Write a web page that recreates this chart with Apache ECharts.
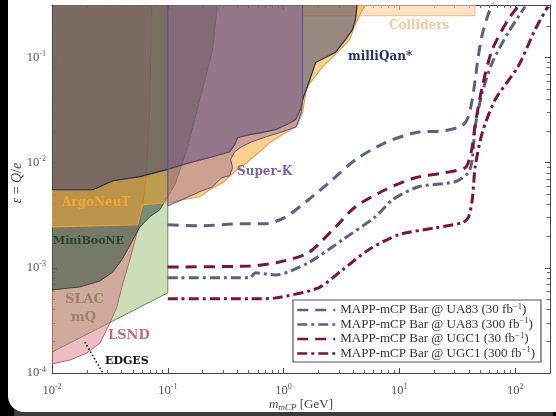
<!DOCTYPE html>
<html>
<head>
<meta charset="utf-8">
<script src="https://cdn.jsdelivr.net/npm/echarts@6/dist/echarts.min.js"></script>
<style>
  html, body { margin: 0; padding: 0; background: #000; }
  #chart { width: 556px; height: 416px; }
</style>
</head>
<body>
<div id="chart"></div>
<script>
// ---- Axis ranges (mass in GeV, fractional charge epsilon) ----
const massRange = [0.01, 200];
const epsRange = [1e-4, 0.316];

// ---- Excluded regions, each an outline of [mass GeV, epsilon] points ----
const regionSLAC = [[0.01, 1.58e-4], [0.1, 5.78e-4], [0.1, 0.34], [0.01, 0.34]];
const regionLSND = [[0.01, 1.22e-4], [0.0143, 1.33e-4], [0.02, 1.55e-4], [0.026, 1.93e-4],
  [0.0316, 2.99e-4], [0.0363, 4.25e-4], [0.041, 7.2e-4], [0.047, 1.19e-3], [0.055, 2.3e-3],
  [0.06, 3.57e-3], [0.066, 8.6e-3], [0.07, 0.04], [0.0728, 0.34], [0.01, 0.34]];
const regionMiniBooNE = [[0.01, 6.17e-4], [0.0174, 6.59e-4], [0.026, 7.51e-4], [0.0336, 9.16e-4],
  [0.041, 1.24e-3], [0.0499, 1.85e-3], [0.0574, 2.45e-3], [0.07, 3.06e-3], [0.0853, 3.57e-3],
  [0.115, 6.17e-3], [0.146, 0.0133], [0.189, 0.0398], [0.244, 0.119], [0.27, 0.34], [0.01, 0.34]];
const regionArgoNeuT = [[0.01, 2.45e-3], [0.055, 2.57e-3], [0.0608, 3.98e-3], [0.1, 4.16e-3],
  [0.1346, 4.44e-3], [0.189, 4.74e-3], [0.23, 5.53e-3], [0.298, 6.46e-3], [0.394, 8.58e-3],
  [0.48, 0.01], [0.621, 0.0127], [0.757, 0.0155], [0.98, 0.0185], [1.29, 0.022], [1.46, 0.0299],
  [1.58, 0.0518], [2.17, 0.0821], [2.92, 0.112], [3.71, 0.148], [4.1, 0.197], [4.7, 0.274],
  [5.3, 0.34], [0.01, 0.34]];
const regionMilliQan = [[0.01, 5.53e-3], [0.0226, 5.53e-3], [0.0336, 6.74e-3], [0.0574, 7.36e-3],
  [0.098, 8.58e-3], [0.155, 0.01], [0.244, 0.0114], [0.342, 0.0127], [0.378, 0.0148],
  [0.401, 0.0173], [0.509, 0.0185], [0.646, 0.0193], [0.853, 0.0206], [1.10, 0.0235],
  [1.27, 0.0257], [1.40, 0.032], [1.49, 0.0425], [1.61, 0.053], [1.89, 0.0896], [2.30, 0.1],
  [2.81, 0.112], [3.42, 0.148], [3.94, 0.185], [4.18, 0.23], [4.34, 0.34], [0.01, 0.34]];
const regionSuperK = [[0.1, 3.89e-3], [0.132, 4.44e-3], [0.189, 5.3e-3], [0.244, 5.9e-3],
  [0.292, 7.2e-3], [0.342, 7.52e-3], [0.363, 8.96e-3], [0.349, 0.0107], [0.378, 0.0127],
  [0.435, 0.0142], [0.53, 0.0158], [0.713, 0.0177], [0.98, 0.0197], [1.29, 0.022],
  [1.43, 0.0306], [1.46, 0.0398], [1.46, 0.34], [0.1, 0.34]];
const regionColliders = [[1.46, 0.25], [45, 0.25], [45, 0.34], [1.46, 0.34]];
const lineEDGES = [[0.0192, 1.97e-4], [0.0275, 1.0e-4], [0.029, 0.9e-4]];

// ---- MAPP-mCP projected sensitivity curves ----
const ua83_30 = [[0.1, 2.57e-3], [0.189, 2.51e-3], [0.418, 2.62e-3], [0.686, 2.62e-3], [1.02, 3.0e-3],
  [1.64, 4.44e-3], [2.64, 6.89e-3], [4.18, 0.0107], [7.57, 0.0155], [13.7, 0.0193], [24.9, 0.0202],
  [34.9, 0.0225], [39.4, 0.0274], [42.6, 0.0398], [45.2, 0.0617], [48, 0.102], [52, 0.166],
  [58.5, 0.257], [64.5, 0.334]];
const ua83_300 = [[0.1, 8.03e-4], [0.509, 8.03e-4], [0.574, 8.96e-4], [0.853, 8.57e-4], [1.64, 1.12e-3],
  [3.23, 1.85e-3], [6.21, 3.06e-3], [8.71, 4.44e-3], [14.6, 5.9e-3], [30.4, 6.59e-3], [39.4, 8.03e-3],
  [42.6, 0.0107], [45.2, 0.022], [52, 0.0464], [63.4, 0.0896], [87.1, 0.173], [122, 0.306]];
const ugc1_30 = [[0.1, 1.02e-3], [0.509, 1.04e-3], [0.87, 1.12e-3], [1.64, 1.39e-3], [2.81, 2.45e-3],
  [4.18, 3.81e-3], [7.57, 5.53e-3], [13.7, 7.2e-3], [24.9, 8.03e-3], [37.1, 8.96e-3], [40.1, 0.0107],
  [42.6, 0.0142], [45.2, 0.023], [52, 0.053], [63.4, 0.119], [87.1, 0.23], [106, 0.306]];
const ugc1_300 = [[0.1, 5.07e-4], [0.509, 5.07e-4], [0.853, 5.18e-4], [2.0, 6.46e-4], [3.23, 9.57e-4],
  [5.4, 1.48e-3], [9.8, 2.06e-3], [20.4, 2.4e-3], [34.9, 2.68e-3], [39.4, 3.0e-3], [42.6, 4.44e-3],
  [45.2, 9.17e-3], [52, 0.0193], [67.3, 0.0398], [106, 0.0821], [149, 0.185], [192, 0.306]];

const curveNames = [
  '{t|MAPP-mCP Bar @ UA83 (30 fb}{s|\u22121}{t|)}',
  '{t|MAPP-mCP Bar @ UA83 (300 fb}{s|\u22121}{t|)}',
  '{t|MAPP-mCP Bar @ UGC1 (30 fb}{s|\u22121}{t|)}',
  '{t|MAPP-mCP Bar @ UGC1 (300 fb}{s|\u22121}{t|)}'
];
const curveKeys = ['UA83 30', 'UA83 300', 'UGC1 30', 'UGC1 300'];

const SERIF = "'Liberation Serif', 'DejaVu Serif', serif";
const LABEL_FONT = "'DejaVu Serif', 'Liberation Serif', serif";

function region(name, pts, fill, stroke, width) {
  return {
    type: 'custom', name: name, silent: true, clip: true, z: 1,
    data: [pts[0]],
    renderItem: function (params, api) {
      const cs = params.coordSys;
      return {
        type: 'polygon',
        shape: { points: pts.map(function (p) { return api.coord(p); }) },
        style: { fill: fill, stroke: stroke, lineWidth: width },
        clipPath: { type: 'rect', shape: { x: cs.x, y: cs.y, width: cs.width, height: cs.height } }
      };
    }
  };
}

function curve(key, pts, color, dash) {
  return {
    type: 'line', name: key, data: pts, showSymbol: false, symbol: 'none',
    smooth: 0.25, clip: true, z: 5,
    lineStyle: { color: color, width: 3, type: dash, cap: 'butt' },
    itemStyle: { color: color }
  };
}

function sup(v) {
  const e = Math.round(Math.log10(v));
  return '{b|10}{s|' + e + '}';
}

const tickRich = {
  b: { fontSize: 12.5, fontFamily: SERIF, color: '#555' },
  s: { fontSize: 8, fontFamily: SERIF, color: '#555', padding: [0, 0, 7, 0] }
};

const slate = '#5a6189';
const maroon = '#7b1436';

const chart = echarts.init(document.getElementById('chart'), null, { renderer: 'canvas' });

function axisCommon(extra) {
  return Object.assign({
    type: 'log', logBase: 10,
    axisLine: { show: true, onZero: false, lineStyle: { color: '#444', width: 1 } },
    axisTick: { show: true, inside: true, length: 5, lineStyle: { color: '#444' } },
    minorTick: { show: true, splitNumber: 9, length: 3, lineStyle: { color: '#666' } },
    splitLine: { show: false },
    minorSplitLine: { show: false }
  }, extra);
}

chart.setOption({
  backgroundColor: '#000',
  animation: false,
  graphic: [
    { type: 'rect', z: -20, shape: { x: 14, y: 400, width: 539, height: 16 }, style: { fill: '#3b3b3b' } },
    { type: 'rect', z: -10, shape: { x: 8, y: -30, width: 600, height: 442, r: 16 }, style: { fill: '#ffffff' } },
    { type: 'text', z: 10, left: 389, top: 20, style: { text: 'Colliders', font: "bold 12px " + LABEL_FONT, fill: '#f6c9a2' } },
    { type: 'text', z: 10, left: 348, top: 51, style: { text: 'milliQan*', font: "bold 12px " + LABEL_FONT, fill: '#253063' } },
    { type: 'text', z: 10, left: 237, top: 166, style: { text: 'Super-K', font: "bold 12px " + LABEL_FONT, fill: '#7a5fab' } },
    { type: 'text', z: 10, left: 62, top: 197, style: { text: 'ArgoNeuT', font: "bold 12px " + LABEL_FONT, fill: '#f3a630' } },
    { type: 'text', z: 10, left: 53, top: 236, style: { text: 'MiniBooNE', font: "bold 11px " + LABEL_FONT, fill: '#23452c' } },
    { type: 'text', z: 10, left: 65, top: 293, style: { text: 'SLAC', font: "bold 13px " + LABEL_FONT, fill: '#9c8262' } },
    { type: 'text', z: 10, left: 71, top: 311, style: { text: 'mQ', font: "bold 13px " + LABEL_FONT, fill: '#9c8262' } },
    { type: 'text', z: 10, left: 108, top: 329, style: { text: 'LSND', font: "bold 13px " + LABEL_FONT, fill: '#c76e7c' } },
    { type: 'text', z: 10, left: 105, top: 356, style: { text: 'EDGES', font: "bold 11px " + LABEL_FONT, fill: '#111' } }
  ],
  grid: { left: 52, right: 6, top: 5, bottom: 43, outerBoundsMode: 'none', containLabel: false },
  legend: {
    data: curveKeys,
    orient: 'vertical',
    left: 293, top: 300,
    itemWidth: 38, itemHeight: 12, itemGap: 0,
    padding: [2, 6, 2, 3],
    backgroundColor: '#fff',
    borderColor: '#555', borderWidth: 1.2, borderRadius: 0,
    selectedMode: false,
    itemStyle: { color: 'rgba(0,0,0,0)', borderWidth: 0, opacity: 0 },
    lineStyle: { width: 2.5 },
    formatter: function (name) { return curveNames[curveKeys.indexOf(name)]; },
    textStyle: {
      color: '#333',
      rich: {
        t: { fontSize: 13, fontFamily: SERIF, color: '#333' },
        s: { fontSize: 8.5, fontFamily: SERIF, color: '#333', padding: [0, 0, 7, 0] }
      }
    }
  },
  xAxis: [
    axisCommon({
      min: massRange[0], max: massRange[1], position: 'bottom',
      axisLabel: { formatter: sup, rich: tickRich, margin: 10, showMaxLabel: false },
      name: '{i|m}{sub|mCP} {n|[GeV]}',
      nameLocation: 'middle', nameGap: 24, nameMoveOverlap: false,
      nameTextStyle: {
        rich: {
          i: { fontSize: 13, fontStyle: 'italic', fontFamily: SERIF, color: '#444' },
          sub: { fontSize: 9, fontStyle: 'italic', fontFamily: SERIF, color: '#444', padding: [6, 0, 0, 0] },
          n: { fontSize: 13, fontFamily: SERIF, color: '#444' }
        }
      }
    }),
    axisCommon({
      min: massRange[0], max: massRange[1], position: 'top',
      axisLabel: { show: false }
    })
  ],
  yAxis: [
    axisCommon({
      min: epsRange[0], max: epsRange[1], position: 'left',
      axisLabel: { formatter: sup, rich: tickRich, margin: 6, showMaxLabel: false },
      name: '{i|\u03b5} {n|=} {i|Q}{n|/}{i|e}',
      nameLocation: 'middle', nameGap: 28, nameMoveOverlap: false,
      nameTextStyle: {
        padding: [0, 0, 0, 12],
        rich: {
          i: { fontSize: 14, fontStyle: 'italic', fontFamily: SERIF, color: '#444' },
          n: { fontSize: 14, fontFamily: SERIF, color: '#444' }
        }
      }
    }),
    axisCommon({
      min: epsRange[0], max: epsRange[1], position: 'right',
      axisLabel: { show: false }
    })
  ],
  series: [
    region('SLAC mQ', regionSLAC, 'rgba(140,180,100,0.45)', '#5e9048', 1),
    region('LSND', regionLSND, 'rgba(215,110,125,0.45)', '#c25f6d', 1),
    region('MiniBooNE', regionMiniBooNE, 'rgba(55,85,65,0.58)', '#2b4c33', 1),
    region('Colliders', regionColliders, 'rgba(250,205,160,0.6)', '#f6b97e', 1),
    region('ArgoNeuT', regionArgoNeuT, 'rgba(245,170,50,0.55)', '#eea232', 1.2),
    region('milliQan', regionMilliQan, 'rgba(55,65,115,0.5)', '#1f2b5e', 1.2),
    region('Super-K', regionSuperK, 'rgba(140,95,145,0.42)', '#5f4a9e', 1),
    {
      type: 'line', name: 'EDGES', data: lineEDGES, showSymbol: false, symbol: 'none', z: 6,
      lineStyle: { color: '#111', width: 1.6, type: [1.5, 2.2] }, clip: true
    },
    curve('UA83 30', ua83_30, slate, [11, 7]),
    curve('UA83 300', ua83_300, slate, [10, 4, 3, 4]),
    curve('UGC1 30', ugc1_30, maroon, [11, 7]),
    curve('UGC1 300', ugc1_300, maroon, [10, 4, 3, 4])
  ]
});
</script>
</body>
</html>
